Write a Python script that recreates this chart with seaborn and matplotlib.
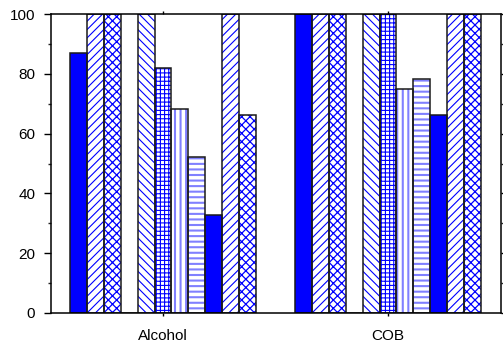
import matplotlib
matplotlib.use("Agg")
import matplotlib.pyplot as plt
import seaborn as sns
import pandas as pd
from matplotlib.ticker import MultipleLocator

categories = ["Alcohol", "COB"]
series = [f"s{i}" for i in range(1, 12)]
alcohol_values = [87, 100, 100, 0, 100, 81.8, 68.3, 52.3, 32.8, 100, 66.2]
cob_values = [100, 100, 100, 0, 100, 100, 74.9, 78.2, 66.1, 100, 100]
hatches = ["", "////", "xxxx", "", "\\\\\\\\", "++++", "|||", "---", "", "////", "xxxx"]
fill_colors = ["#0000ff", "white", "white", "white", "white", "white", "white", "white", "#0000ff", "white", "white"]
hatch_colors = ["#0000ff", "#0000ff", "#0000ff", "#0000ff", "#0000ff", "#0000ff", "#8080ff", "#8080ff", "#0000ff", "#0000ff", "#0000ff"]
hatch_widths = [0.8, 0.8, 0.9, 0.8, 0.8, 0.8, 1.5, 1.5, 0.8, 0.8, 0.9]

rows = []
for s, a, c in zip(series, alcohol_values, cob_values):
    rows.append({"category": "Alcohol", "series": s, "value": a})
    rows.append({"category": "COB", "series": s, "value": c})
df = pd.DataFrame(rows)

sns.set_style("ticks")
plt.rcParams["font.family"] = ["Liberation Sans", "DejaVu Sans"]
plt.rcParams["hatch.linewidth"] = 1.0

fig, ax = plt.subplots(figsize=(5.03, 3.43), dpi=100)
fig.subplots_adjust(left=50.5 / 503, right=500.5 / 503, top=1 - 14 / 343, bottom=1 - 313 / 343)

sns.barplot(data=df, x="category", y="value", hue="series", order=categories,
            hue_order=series, palette=fill_colors, width=0.828, dodge=True,
            errorbar=None, saturation=1, linewidth=0, legend=False, ax=ax)

n_fill = len(ax.containers)
for cont, h, hc, hw in zip(ax.containers[:n_fill], hatches, hatch_colors, hatch_widths):
    for bar in cont:
        bar.set_edgecolor(hc)
        bar.set_hatch(h)
        bar.set_linewidth(0)
        if hasattr(bar, "set_hatch_linewidth"):
            bar.set_hatch_linewidth(hw)

sns.barplot(data=df, x="category", y="value", hue="series", order=categories,
            hue_order=series, palette=["#1a1a1a"] * len(series), width=0.828,
            dodge=True, errorbar=None, saturation=1, fill=False, linewidth=1.1,
            legend=False, ax=ax)

ax.set_ylim(0, 100)
ax.set_xlim(-0.5, 1.5)
ax.yaxis.set_major_locator(MultipleLocator(20))
ax.yaxis.set_minor_locator(MultipleLocator(10))
ax.set_xlabel("")
ax.set_ylabel("")

for sp in ax.spines.values():
    sp.set_visible(True)
    sp.set_linewidth(1.1)
    sp.set_color("black")

ax.tick_params(axis="y", which="major", direction="out", length=5, width=1,
               left=True, right=True, labelsize=11, pad=6, colors="black")
ax.tick_params(axis="y", which="minor", direction="out", length=2.5, width=1,
               left=True, right=True)
ax.tick_params(axis="x", which="major", direction="out", length=2.5, width=1,
               bottom=True, top=True, labelsize=11, pad=9, colors="black")

fig.savefig("out.png", dpi=100)
